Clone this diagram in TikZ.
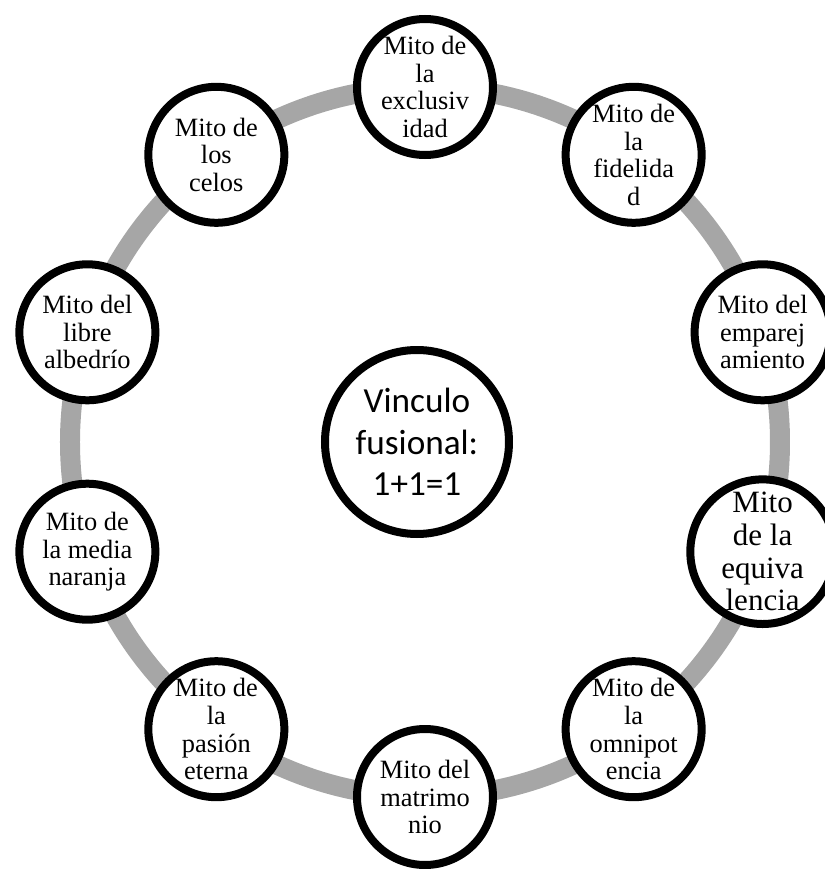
\documentclass[tikz,border=0pt]{standalone}
\usepackage{fontspec}
\setmainfont{Liberation Serif}
\newfontfamily\calibri{Carlito}
\usetikzlibrary{shadows}
\definecolor{ring}{HTML}{A6A6A6}

\begin{document}
\begin{tikzpicture}[
  myth/.style={circle,draw=black,line width=4pt,fill=white,minimum size=68pt,inner sep=0pt,align=center,
    font=\fontsize{13.2}{13.8}\selectfont,drop shadow={opacity=0.2,shadow xshift=0.6pt,shadow yshift=-1.6pt}},
  core/.style={myth,minimum size=92pt,font=\calibri\fontsize{17.6}{20.7}\selectfont}
]
\useasboundingbox (-212.5pt,-213.5pt) rectangle (200pt,221pt);
% the ring
\draw[ring,line width=10pt] (0,0) circle (177.5pt);
% center
\node[core] (fusion) at (-4pt,0) {Vinculo\\fusional:\\1+1=1};
% myths, clockwise from the top
\node[myth] (exclusividad) at (90:177.5pt) {Mito de\\la\\exclusiv\\idad};
\node[myth] (fidelidad) at (54:177.5pt) {Mito de\\la\\fidelida\\d};
\node[myth] (emparejamiento) at (18:177.5pt) {Mito del\\emparej\\amiento};
\node[myth,font=\fontsize{15.5}{16.3}\selectfont] (equivalencia) at (-18:177.5pt) {Mito\\de la\\equiva\\lencia};
\node[myth] (omnipotencia) at (-54:177.5pt) {Mito de\\la\\omnipot\\encia};
\node[myth] (matrimonio) at (-90:177.5pt) {Mito del\\matrimo\\nio};
\node[myth] (pasion) at (-126:177.5pt) {Mito de\\la\\pasión\\eterna};
\node[myth] (naranja) at (-162:177.5pt) {Mito de\\la media\\naranja};
\node[myth] (albedrio) at (162:177.5pt) {Mito del\\libre\\albedrío};
\node[myth] (celos) at (126:177.5pt) {Mito de\\los\\celos};
\end{tikzpicture}
\end{document}
